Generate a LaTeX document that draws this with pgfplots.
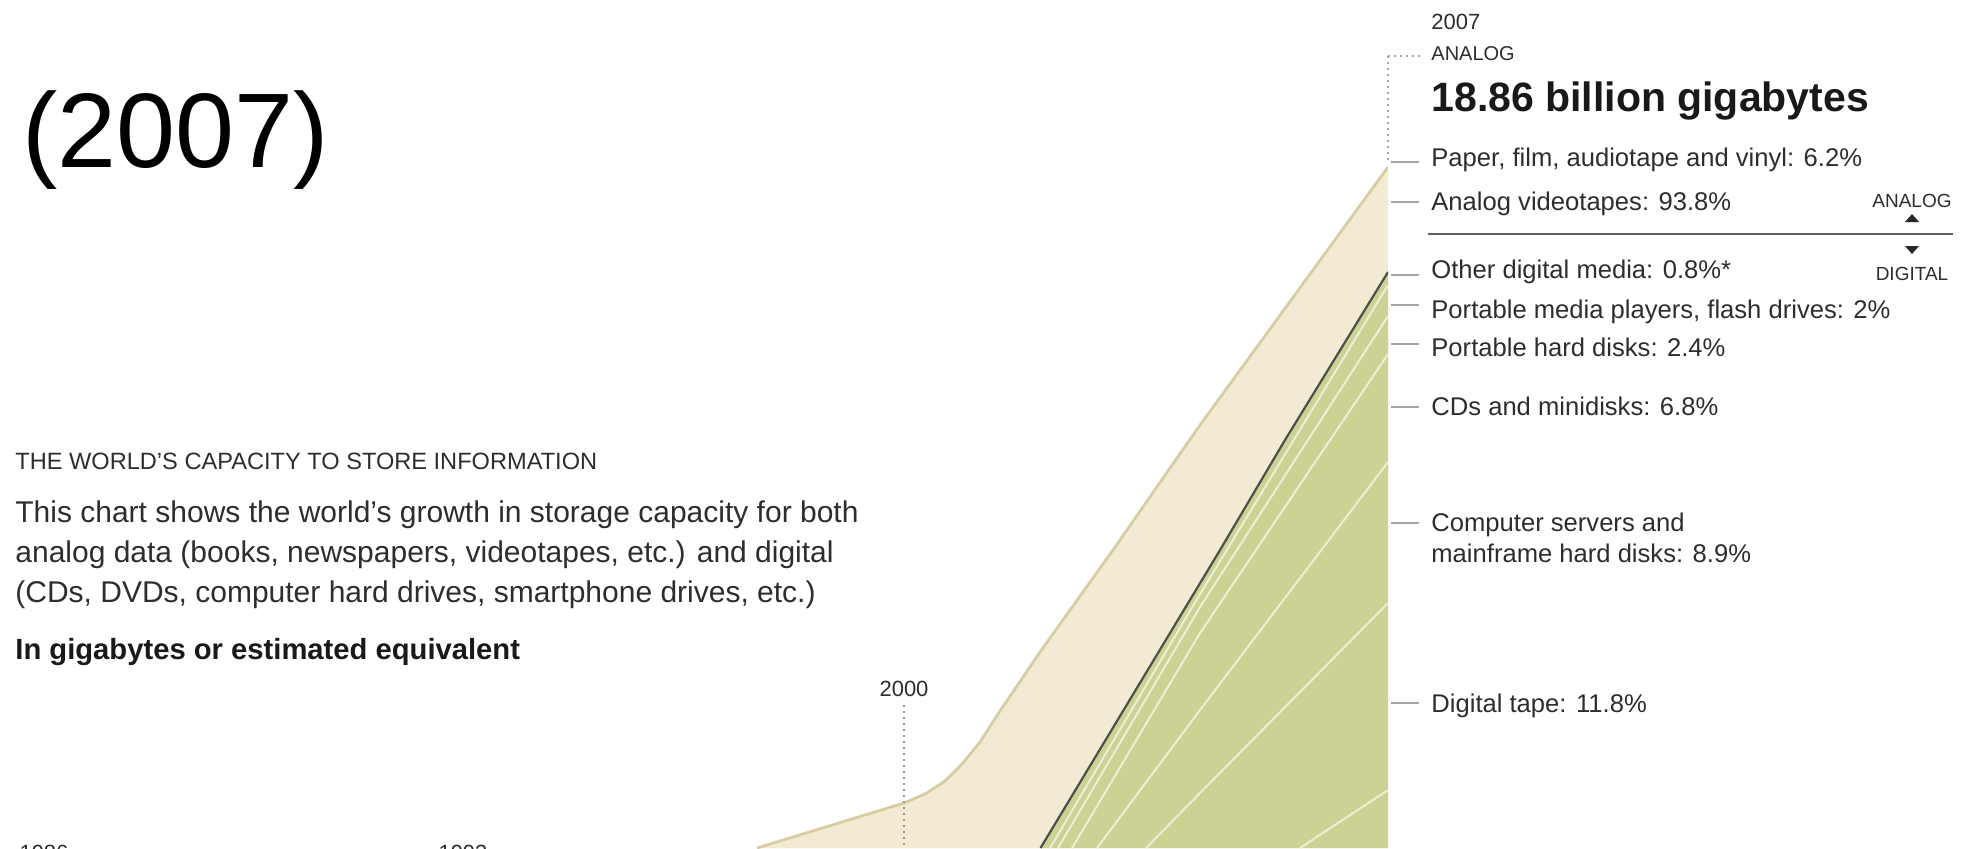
\documentclass[border=0pt]{standalone}
\usepackage{pgfplots}
\pgfplotsset{compat=1.18}
\usepackage{fontspec}
\setmainfont{Liberation Sans}
\definecolor{beige}{RGB}{243,234,211}
\definecolor{beigeedge}{RGB}{216,204,163}
\definecolor{sage}{RGB}{205,210,148}
\definecolor{lite}{RGB}{238,238,212}
\definecolor{darkln}{RGB}{75,80,75}
\definecolor{txt}{RGB}{45,45,45}
\definecolor{leader}{RGB}{165,165,165}
\newcommand{\fs}[1]{\fontsize{#1}{#1}\selectfont}
\pgfplotstableread{
year val
1997.874 0
2000.000 8.08
2000.304 9.69
2000.593 12.03
2000.839 15.08
2001.099 19.03
2001.388 24.60
2001.967 35.19
2003.023 53.50
2004.281 75.94
2007.000 122.26
}\analogtop
\pgfplotstableread{
year val
2001.974 0
2004.570 53.50
2005.510 73.25
2007.000 103.41
}\digitaltop
\begin{document}
\begin{tikzpicture}[x=0.5pt,y=0.5pt]
\path[use as bounding box] (0,0) rectangle (1969,848);
\clip (0,0) rectangle (1969,848);
\begin{axis}[at={(300pt,0pt)}, anchor=south west, x=34.5715pt, y=2.785pt,
  xmin=1995.603, xmax=2007, ymin=0, ymax=152.24, hide axis, clip=true]
% analog top (total storage)
\addplot[fill=beige, draw=none] table[x=year,y=val] {\analogtop} \closedcycle;
% digital top
\addplot[fill=sage, draw=none] table[x=year,y=val] {\digitaltop} \closedcycle;
% digital category boundaries
\addplot[lite, line width=1pt] table {
2002.112 0
2004.281 45.60
2007.000 101.08
};
\addplot[lite, line width=1pt] table {
2002.227 0
2004.281 43.27
2007.000 95.51
};
\addplot[lite, line width=1pt] table {
2002.430 0
2004.281 38.60
2007.000 88.69
};
\addplot[lite, line width=1pt] table {
2002.791 0
2004.281 24.78
2007.000 69.30
};
\addplot[lite, line width=1pt] table {
2003.500 0
2004.281 9.87
2007.000 43.99
};
\addplot[lite, line width=1pt] table {
2005.727 0
2007.000 10.41
};
% edges
\addplot[beigeedge, line width=1.4pt, line join=round] table[x=year,y=val] {\analogtop};
\addplot[darkln, line width=1.1pt] table[x=year,y=val] {\digitaltop};
\end{axis}
% dotted year markers
\draw[gray!80, line width=1pt, dash pattern=on 1.2pt off 1.8pt] (904,143) -- (904,0);
\draw[gray!70, line width=1pt, dash pattern=on 1.2pt off 1.8pt] (1388,792) -- (1388,684);
\draw[gray!70, line width=1pt, dash pattern=on 1.2pt off 1.8pt] (1388,792) -- (1422,792);
% leaders
\foreach \yy in {686,646,573,543,504,441,325,145}
  \draw[leader, line width=0.8pt] (1391,\yy) -- (1419,\yy);
% divider
\draw[darkln!90, line width=1pt] (1428,614) -- (1953,614);
\fill[black!85] (1905,626) -- (1919,626) -- (1912,634) -- cycle;
\fill[black!85] (1905,602) -- (1919,602) -- (1912,594) -- cycle;
% big year
\node[anchor=base west, inner sep=0] at (22,680) {\fs{53}(2007)};
% left text block
\node[anchor=base west, inner sep=0, text=txt] at (15,379) {\fs{11.8}THE WORLD’S CAPACITY TO STORE INFORMATION};
\node[anchor=base west, inner sep=0, text=txt] at (15,326) {\fs{15}This chart shows the world’s growth in storage capacity for both};
\node[anchor=base west, inner sep=0, text=txt] at (15,286) {\fs{15}analog data (books, newspapers, videotapes, etc.) and digital};
\node[anchor=base west, inner sep=0, text=txt] at (15,246) {\fs{15}(CDs, DVDs, computer hard drives, smartphone drives, etc.)};
\node[anchor=base west, inner sep=0, text=black!90] at (15,189) {\fs{14.6}\bfseries In gigabytes or estimated equivalent};
% x labels
\node[anchor=base, inner sep=0, text=txt] at (904,152) {\fs{11}2000};
\node[anchor=base, inner sep=0, text=txt] at (44,-12) {\fs{11}1986};
\node[anchor=base, inner sep=0, text=txt] at (463,-12) {\fs{11}1993};
% right block
\node[anchor=base west, inner sep=0, text=txt] at (1431,818) {\fs{11}2007};
\node[anchor=base west, inner sep=0, text=txt] at (1431,787) {\fs{10}ANALOG};
\node[anchor=base west, inner sep=0, text=black!90] at (1431,736) {\fs{20.5}\bfseries 18.86 billion gigabytes};
\node[anchor=base west, inner sep=0, text=txt] at (1431,682) {\fs{12.8}Paper, film, audiotape and vinyl: 6.2\%};
\node[anchor=base west, inner sep=0, text=txt] at (1431,638) {\fs{12.8}Analog videotapes: 93.8\%};
\node[anchor=base west, inner sep=0, text=txt] at (1431,570) {\fs{12.8}Other digital media: 0.8\%*};
\node[anchor=base west, inner sep=0, text=txt] at (1431,530) {\fs{12.8}Portable media players, flash drives: 2\%};
\node[anchor=base west, inner sep=0, text=txt] at (1431,492) {\fs{12.8}Portable hard disks: 2.4\%};
\node[anchor=base west, inner sep=0, text=txt] at (1431,433) {\fs{12.8}CDs and minidisks: 6.8\%};
\node[anchor=base west, inner sep=0, text=txt] at (1431,317) {\fs{12.8}Computer servers and};
\node[anchor=base west, inner sep=0, text=txt] at (1431,286) {\fs{12.8}mainframe hard disks: 8.9\%};
\node[anchor=base west, inner sep=0, text=txt] at (1431,136) {\fs{12.8}Digital tape: 11.8\%};
\node[anchor=base, inner sep=0, text=txt] at (1912,640) {\fs{9.5}ANALOG};
\node[anchor=base, inner sep=0, text=txt] at (1912,568) {\fs{9.5}DIGITAL};
\end{tikzpicture}
\end{document}
